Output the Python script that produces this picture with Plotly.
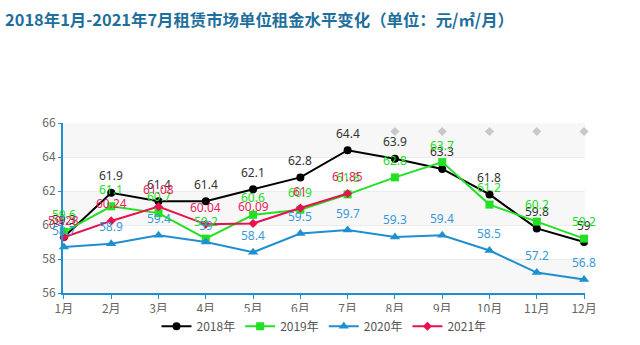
import plotly.graph_objects as go

months = ["1月", "2月", "3月", "4月", "5月", "6月", "7月", "8月", "9月", "10月", "11月", "12月"]
y2018 = [59.3, 61.9, 61.4, 61.4, 62.1, 62.8, 64.4, 63.9, 63.3, 61.8, 59.8, 59]
y2019 = [59.6, 61.1, 60.7, 59.2, 60.6, 60.9, 61.8, 62.8, 63.7, 61.2, 60.2, 59.2]
y2020 = [58.7, 58.9, 59.4, 59, 58.4, 59.5, 59.7, 59.3, 59.4, 58.5, 57.2, 56.8]
y2021 = [59.28, 60.24, 61.08, 60.04, 60.09, 61, 61.85]
gray_months = ["8月", "9月", "10月", "11月", "12月"]
gray_vals = [65.5, 65.5, 65.5, 65.5, 65.5]

series = [
    ("2018年", y2018, "#000000", "#333333", "circle", 8),
    ("2019年", y2019, "#22e022", "#22dd22", "square", 8),
    ("2020年", y2020, "#1f8fd0", "#3a9ad9", "triangle-up", 9),
    ("2021年", y2021, "#e8104f", "#e8245f", "diamond", 7),
]

fig = go.Figure()

# alternating background bands
for lo in [56, 60, 64]:
    fig.add_shape(type="rect", xref="paper", yref="y", x0=0, x1=1, y0=lo, y1=lo + 2,
                  fillcolor="#f7f7f7", line_width=0, layer="below")

for name, vals, lc, tc, sym, ms in series:
    xs = months[:len(vals)]
    fig.add_trace(go.Scatter(
        x=xs, y=vals, name=name, mode="lines+markers",
        line=dict(color=lc, width=2),
        marker=dict(symbol=sym, size=ms, color=lc),
        cliponaxis=False,
    ))
    for xv, v in zip(xs, vals):
        fig.add_annotation(x=xv, y=v, text=format(v, "g"), showarrow=False,
                           yshift=17, font=dict(color=tc, size=12, family="Noto Sans, sans-serif"))

fig.add_trace(go.Scatter(
    x=gray_months, y=gray_vals, mode="markers", showlegend=False,
    marker=dict(symbol="diamond", size=7, color="#c8c8c8"), hoverinfo="skip",
    cliponaxis=False,
))

fig.update_layout(
    width=640, height=345,
    margin=dict(l=63, r=55, t=123, b=52, autoexpand=False),
    paper_bgcolor="white", plot_bgcolor="white",
    title=dict(text="<b>2018年1月-2021年7月租赁市场单位租金水平变化（单位：元/㎡/月）</b>",
               x=0.008, xanchor="left", y=0.94, yanchor="middle",
               font=dict(family="Noto Sans CJK SC", size=16.4, color="#1f6f9c")),
    legend=dict(orientation="h", x=0.5, xanchor="center", y=-0.11, yanchor="top",
                font=dict(size=12, color="#555555", family="Noto Sans CJK SC"),
                itemwidth=30, tracegroupgap=0),
    font=dict(family="Noto Sans CJK SC"),
)
fig.update_xaxes(
    type="category", categoryorder="array", categoryarray=months,
    range=[-0.02, 11.02],
    showline=True, linecolor="#1f8fd0", linewidth=2,
    ticks="outside", tickcolor="#1f8fd0", ticklen=4,
    tickfont=dict(size=12, color="#666666"), showgrid=False,
)
fig.update_yaxes(
    range=[56, 66], dtick=2, showline=True, linecolor="#1f8fd0", linewidth=2,
    ticks="outside", tickcolor="#1f8fd0", ticklen=3,
    tickfont=dict(size=12, color="#666666"),
    showgrid=True, gridcolor="#ececec", zeroline=False,
)

fig.write_html("out.html")
